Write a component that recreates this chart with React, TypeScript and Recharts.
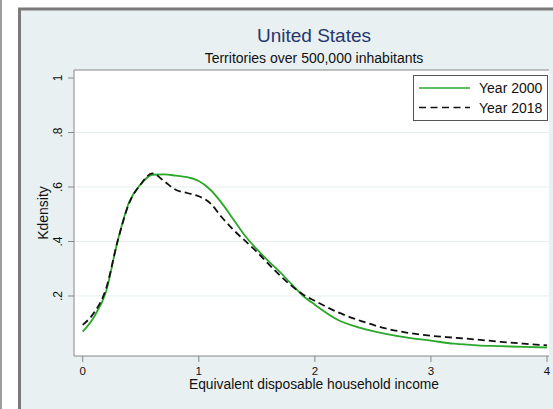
import React from 'react';
import { LineChart, Line, XAxis, YAxis, CartesianGrid, ReferenceLine, Legend } from 'recharts';

const income = [0, 0.1, 0.2, 0.3, 0.4, 0.5, 0.6, 0.7, 0.8, 0.9, 1.0, 1.1, 1.2, 1.3, 1.4, 1.5, 1.6, 1.7, 1.8, 1.9, 2.0, 2.2, 2.4, 2.6, 2.8, 3.0, 3.2, 3.4, 3.6, 3.8, 4.0];
const density2000 = [0.069, 0.125, 0.215, 0.4, 0.545, 0.61, 0.645, 0.646, 0.642, 0.636, 0.622, 0.59, 0.54, 0.48, 0.42, 0.372, 0.328, 0.288, 0.243, 0.2, 0.168, 0.112, 0.082, 0.062, 0.047, 0.036, 0.025, 0.019, 0.016, 0.013, 0.011];
const density2018 = [0.094, 0.14, 0.225, 0.4, 0.54, 0.61, 0.65, 0.622, 0.59, 0.578, 0.566, 0.54, 0.488, 0.442, 0.402, 0.362, 0.318, 0.275, 0.237, 0.205, 0.182, 0.14, 0.108, 0.082, 0.065, 0.054, 0.047, 0.04, 0.032, 0.025, 0.019];

const seriesNames = ['Year 2000', 'Year 2018'];
const xTicks = [0, 1, 2, 3, 4];
const yTicks = [0.2, 0.4, 0.6, 0.8, 1];
const yTickLabels = ['.2', '.4', '.6', '.8', '1'];
const gridValues = [0.2, 0.4, 0.6, 0.8];

const X_DOMAIN: [number, number] = [-0.075, 4.017];
const Y_MIN = -0.0202;
const Y_MAX = 1.0294;

const FONT = '"Liberation Sans", Arial, Helvetica, sans-serif';
const GREEN = '#2aa82a';
const BLACK = '#111111';
const AXIS = '#888888';

const data = income.map((x, i) => ({ x, y2000: density2000[i], y2018: density2018[i] }));

const YTick = (props: any) => {
  const { x, y, payload } = props;
  const idx = yTicks.indexOf(payload.value);
  const label = idx >= 0 ? yTickLabels[idx] : String(payload.value);
  const bx = x - 6;
  return (
    <text x={bx} y={y} transform={`rotate(-90, ${bx}, ${y})`} textAnchor="middle" fontSize={12} fontFamily={FONT} fill="#111">
      {label}
    </text>
  );
};

const LegendBox = () => (
  <svg width={135} height={46} style={{ display: 'block' }}>
    <rect x={0.5} y={0.5} width={134} height={45} fill="#ffffff" stroke="#555" strokeWidth={1} />
    <line x1={6} x2={57} y1={13} y2={13} stroke={GREEN} strokeWidth={1.6} />
    <text x={66} y={18} fontSize={14} fontFamily={FONT} fill="#111">{seriesNames[0]}</text>
    <line x1={6} x2={57} y1={32.5} y2={32.5} stroke={BLACK} strokeWidth={1.6} strokeDasharray="7 4.5" />
    <text x={66} y={37.5} fontSize={14} fontFamily={FONT} fill="#111">{seriesNames[1]}</text>
  </svg>
);

export default function App() {
  return (
    <div style={{ position: 'absolute', left: 0, top: 0, width: 553, height: 409, overflow: 'hidden', background: '#ffffff' }}>
      <svg width={553} height={409} style={{ position: 'absolute', left: 0, top: 0 }}>
        <rect x={0} y={0} width={2} height={409} fill="#9c9c9c" />
        <rect x={19.5} y={9} width={560} height={420} fill="#e8f0f2" stroke="#7a7a7a" strokeWidth={3} />
        <text x={314} y={41.5} textAnchor="middle" fontSize={19} fontFamily={FONT} fill="#27376e">United States</text>
        <text x={314} y={62.5} textAnchor="middle" fontSize={14} fontFamily={FONT} fill="#111">Territories over 500,000 inhabitants</text>
      </svg>
      <div style={{ position: 'absolute', left: 0, top: 0 }}>
        <LineChart width={553} height={409} data={data} margin={{ top: 70, right: 4, bottom: 0, left: 0 }}>
          <CartesianGrid horizontal vertical={false} horizontalValues={gridValues} stroke="#e4eeee" fill="#ffffff" />
          <XAxis
            dataKey="x"
            type="number"
            domain={X_DOMAIN}
            ticks={xTicks}
            height={53}
            tickSize={6}
            tickMargin={5}
            stroke={AXIS}
            axisLine={{ stroke: AXIS }}
            tickLine={{ stroke: AXIS }}
            tick={{ fontSize: 11.5, fontFamily: FONT, fill: '#111' }}
            allowDataOverflow
            label={{
              content: () => (
                <text x={314} y={389} textAnchor="middle" fontSize={13.8} fontFamily={FONT} fill="#111">
                  Equivalent disposable household income
                </text>
              ),
            }}
          />
          <YAxis
            type="number"
            domain={[Y_MIN, Y_MAX]}
            ticks={yTicks}
            width={74}
            tickSize={6}
            tickMargin={0}
            stroke={AXIS}
            axisLine={{ stroke: AXIS }}
            tickLine={{ stroke: AXIS }}
            tick={<YTick />}
            allowDataOverflow
            label={{
              content: () => (
                <text x={48} y={213} transform="rotate(-90, 48, 213)" textAnchor="middle" fontSize={14} fontFamily={FONT} fill="#111">
                  Kdensity
                </text>
              ),
            }}
          />
          <ReferenceLine y={Y_MAX} stroke={AXIS} strokeWidth={1} />
          <Line type="monotone" dataKey="y2000" name={seriesNames[0]} stroke={GREEN} strokeWidth={1.8} dot={false} isAnimationActive={false} />
          <Line type="monotone" dataKey="y2018" name={seriesNames[1]} stroke={BLACK} strokeWidth={1.8} strokeDasharray="7 4" dot={false} isAnimationActive={false} />
          <Legend
            layout="vertical"
            align="center"
            verticalAlign="middle"
            content={() => <LegendBox />}
            wrapperStyle={{ position: 'absolute', left: 413, top: 75, width: 135, height: 46 }}
          />
        </LineChart>
      </div>
    </div>
  );
}
